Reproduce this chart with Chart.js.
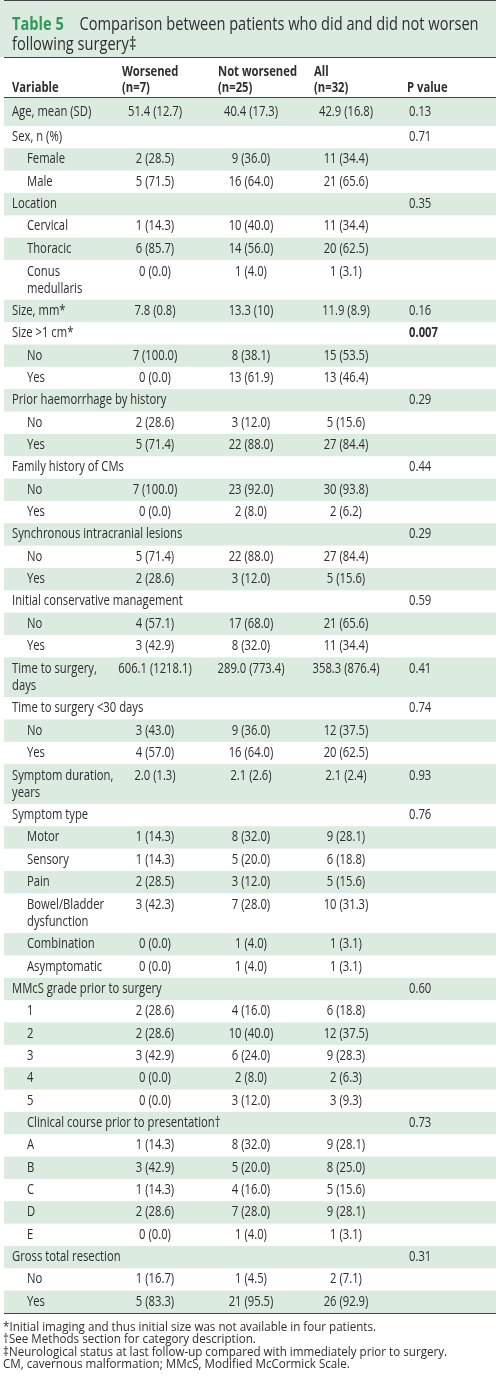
<!DOCTYPE html>
<html>
<head>
<meta charset="utf-8">
<title>Table 5</title>
<script src="https://cdn.jsdelivr.net/npm/chart.js@4.4.1/dist/chart.umd.min.js"></script>
<style>
  html, body { margin:0; padding:0; background:#fff; }
  #wrap { position:relative; width:496px; height:1384px; overflow:hidden; }
  #chart { position:absolute; left:0; top:0; }
  .ff { font-family:'Open Sans',Lato,sans-serif; color:#2e2e2e; }
  #title { position:absolute; left:12px; top:13px; line-height:20px; white-space:nowrap; transform-origin:0 0; }
  #title b { color:#2f9a5a; margin-right:20px; }
  #notes { position:absolute; left:3px; top:1320px; line-height:12.4px; white-space:nowrap; transform-origin:0 0; }
</style>
</head>
<body>
<div id="wrap">
  <canvas id="chart" width="496" height="1384"></canvas>
  <div id="title" class="ff"><b>Table 5</b><span>Comparison between patients who did and did not worsen</span><br>following surgery‡</div>
  <div id="notes" class="ff">
    <div>*Initial imaging and thus initial size was not available in four patients.</div>
    <div>†See Methods section for category description.</div>
    <div>‡Neurological status at last follow-up compared with immediately prior to surgery.</div>
    <div>CM, cavernous malformation; MMcS, Modified McCormick Scale.</div>
  </div>
</div>
<script>
// ---------------- DATA ----------------
const headerLine1 = ["", "Worsened", "Not worsened", "All", ""];
const headerLine2 = ["Variable", "(n=7)", "(n=25)", "(n=32)", "P value"];

const variables = ["Age, mean (SD)","Sex, n (%)","Female","Male","Location","Cervical","Thoracic","Conus\nmedullaris","Size, mm*","Size >1 cm*","No","Yes","Prior haemorrhage by history","No","Yes","Family history of CMs","No","Yes","Synchronous intracranial lesions","No","Yes","Initial conservative management","No","Yes","Time to surgery,\ndays","Time to surgery <30 days","No","Yes","Symptom duration,\nyears","Symptom type","Motor","Sensory","Pain","Bowel/Bladder\ndysfunction","Combination","Asymptomatic","MMcS grade prior to surgery","1","2","3","4","5","Clinical course prior to presentation†","A","B","C","D","E","Gross total resection","No","Yes"];

const levels = [0,0,1,1,0,1,1,1,0,0,1,1,0,1,1,0,1,1,0,1,1,0,1,1,0,0,1,1,0,0,1,1,1,1,1,1,0,1,1,1,1,1,1,1,1,1,1,1,0,1,1];

const worsened = ["51.4 (12.7)","","2 (28.5)","5 (71.5)","","1 (14.3)","6 (85.7)","0 (0.0)","7.8 (0.8)","","7 (100.0)","0 (0.0)","","2 (28.6)","5 (71.4)","","7 (100.0)","0 (0.0)","","5 (71.4)","2 (28.6)","","4 (57.1)","3 (42.9)","606.1 (1218.1)","","3 (43.0)","4 (57.0)","2.0 (1.3)","","1 (14.3)","1 (14.3)","2 (28.5)","3 (42.3)","0 (0.0)","0 (0.0)","","2 (28.6)","2 (28.6)","3 (42.9)","0 (0.0)","0 (0.0)","","1 (14.3)","3 (42.9)","1 (14.3)","2 (28.6)","0 (0.0)","","1 (16.7)","5 (83.3)"];

const notWorsened = ["40.4 (17.3)","","9 (36.0)","16 (64.0)","","10 (40.0)","14 (56.0)","1 (4.0)","13.3 (10)","","8 (38.1)","13 (61.9)","","3 (12.0)","22 (88.0)","","23 (92.0)","2 (8.0)","","22 (88.0)","3 (12.0)","","17 (68.0)","8 (32.0)","289.0 (773.4)","","9 (36.0)","16 (64.0)","2.1 (2.6)","","8 (32.0)","5 (20.0)","3 (12.0)","7 (28.0)","1 (4.0)","1 (4.0)","","4 (16.0)","10 (40.0)","6 (24.0)","2 (8.0)","3 (12.0)","","8 (32.0)","5 (20.0)","4 (16.0)","7 (28.0)","1 (4.0)","","1 (4.5)","21 (95.5)"];

const allPatients = ["42.9 (16.8)","","11 (34.4)","21 (65.6)","","11 (34.4)","20 (62.5)","1 (3.1)","11.9 (8.9)","","15 (53.5)","13 (46.4)","","5 (15.6)","27 (84.4)","","30 (93.8)","2 (6.2)","","27 (84.4)","5 (15.6)","","21 (65.6)","11 (34.4)","358.3 (876.4)","","12 (37.5)","20 (62.5)","2.1 (2.4)","","9 (28.1)","6 (18.8)","5 (15.6)","10 (31.3)","1 (3.1)","1 (3.1)","","6 (18.8)","12 (37.5)","9 (28.3)","2 (6.3)","3 (9.3)","","9 (28.1)","8 (25.0)","5 (15.6)","9 (28.1)","1 (3.1)","","2 (7.1)","26 (92.9)"];

const pValues = ["0.13","0.71","","","0.35","","","","0.16","0.007","","","0.29","","","0.44","","","0.29","","","0.59","","","0.41","0.74","","","0.93","0.76","","","","","","","0.60","","","","","","0.73","","","","","","0.31","",""];

// ---------------- STYLE ----------------
const FONT = "'Open Sans',Lato,sans-serif";
const TEXT = '#2e2e2e';
const STRIPE = '#dcebdf';
const RULE = '#444444';

const mctx = document.createElement('canvas').getContext('2d');
function measure(text, weight, size) {
  mctx.font = weight + ' ' + size + 'px ' + FONT;
  return mctx.measureText(text).width;
}
// font sizes chosen by cap height, horizontal squeeze chosen to match the condensed original
const bodySize = 14, headSize = 14, titleSize = 18.5, noteSize = 11.8;
const bodySX = (172 / measure('Initial conservative management', 'normal', bodySize) +
                169 / measure('Synchronous intracranial lesions', 'normal', bodySize)) / 2;
const headSX = 79 / measure('Not worsened', 'bold', headSize);
const titleSX = 399 / measure('Comparison between patients who did and did not worsen', 'normal', titleSize);
const noteSX = 373 / measure('*Initial imaging and thus initial size was not available in four patients.', 'normal', noteSize);

const titleEl = document.getElementById('title');
titleEl.style.fontSize = titleSize + 'px';
titleEl.style.transform = 'scaleX(' + titleSX.toFixed(4) + ')';
const notesEl = document.getElementById('notes');
notesEl.style.fontSize = noteSize + 'px';
notesEl.style.transform = 'scaleX(' + noteSX.toFixed(4) + ')';

// row layout in "row units"
const rowUnits = variables.map((v, i) => {
  const lines = v.split('\n').length;
  if (i === 0) return 1.25;
  return lines > 1 ? 1.78 : 1;
});
const rowStart = [];
let acc = 0;
rowUnits.forEach(u => { rowStart.push(acc); acc += u; });
const totalUnits = acc;

const labelX = [12, 27];
const valueCenters = [155, 251, 346];
const pX = 409;
const headerX = [12, 122, 218, 314, 407];

function squeezeText(ctx, text, x, y, sx) {
  ctx.save();
  ctx.translate(x, y);
  ctx.scale(sx, 1);
  ctx.fillText(text, 0, 0);
  ctx.restore();
}

const tablePlugin = {
  id: 'tableCells',
  beforeDatasetsDraw(chart) {
    const ctx = chart.ctx;
    const xs = chart.scales.x, ys = chart.scales.y;
    ctx.save();
    ctx.fillStyle = STRIPE;
    ctx.fillRect(0, 0, 496, 57);
    variables.forEach((v, i) => {
      if (i % 2 !== 0) return;
      const top = ys.getPixelForValue(rowStart[i]);
      const bot = ys.getPixelForValue(rowStart[i] + rowUnits[i]);
      const l = xs.getPixelForValue(4), r = xs.getPixelForValue(496);
      ctx.fillRect(l, top, r - l, bot - top);
    });
    ctx.strokeStyle = RULE;
    ctx.lineWidth = 1;
    const tableTop = ys.getPixelForValue(0);
    const tableBot = ys.getPixelForValue(totalUnits);
    [0.5, 57.5, Math.round(tableTop) - 0.5, Math.round(tableBot) + 0.5].forEach(y => {
      ctx.beginPath();
      ctx.moveTo(xs.getPixelForValue(4), y);
      ctx.lineTo(xs.getPixelForValue(496), y);
      ctx.stroke();
    });
    ctx.restore();
  },
  afterDatasetsDraw(chart) {
    const ctx = chart.ctx;
    const xs = chart.scales.x, ys = chart.scales.y;
    ctx.save();
    ctx.fillStyle = TEXT;
    ctx.textBaseline = 'middle';
    ctx.font = 'bold ' + headSize + 'px ' + FONT;
    ctx.textAlign = 'left';
    headerLine1.forEach((t, c) => { if (t) squeezeText(ctx, t, xs.getPixelForValue(headerX[c]), 72, headSX); });
    headerLine2.forEach((t, c) => { if (t) squeezeText(ctx, t, xs.getPixelForValue(headerX[c]), 88, headSX); });
    const cols = [worsened, notWorsened, allPatients];
    variables.forEach((v, i) => {
      const top = ys.getPixelForValue(rowStart[i]);
      const bot = ys.getPixelForValue(rowStart[i] + rowUnits[i]);
      const lines = v.split('\n');
      const y0 = lines.length > 1 ? top + 12 : (top + bot) / 2;
      ctx.font = 'normal ' + bodySize + 'px ' + FONT;
      ctx.textAlign = 'left';
      lines.forEach((ln, k) => squeezeText(ctx, ln, xs.getPixelForValue(labelX[levels[i]]), y0 + k * 17, bodySX));
      ctx.textAlign = 'center';
      cols.forEach((arr, c) => { if (arr[i]) squeezeText(ctx, arr[i], xs.getPixelForValue(valueCenters[c]), y0, bodySX); });
      if (pValues[i]) {
        const sig = parseFloat(pValues[i]) < 0.05;
        ctx.font = (sig ? 'bold ' : 'normal ') + bodySize + 'px ' + FONT;
        ctx.textAlign = 'left';
        squeezeText(ctx, pValues[i], xs.getPixelForValue(pX), y0, bodySX);
      }
    });
    ctx.restore();
  }
};

new Chart(document.getElementById('chart'), {
  type: 'scatter',
  data: { datasets: [] },
  options: {
    responsive: false,
    animation: false,
    events: [],
    layout: { padding: { left: 0, right: 0, top: 98, bottom: 71 } },
    plugins: { legend: { display: false }, tooltip: { enabled: false } },
    scales: {
      x: { type: 'linear', min: 0, max: 496, display: false },
      y: { type: 'linear', min: 0, max: totalUnits, reverse: true, display: false }
    }
  },
  plugins: [tablePlugin]
});
</script>
</body>
</html>
